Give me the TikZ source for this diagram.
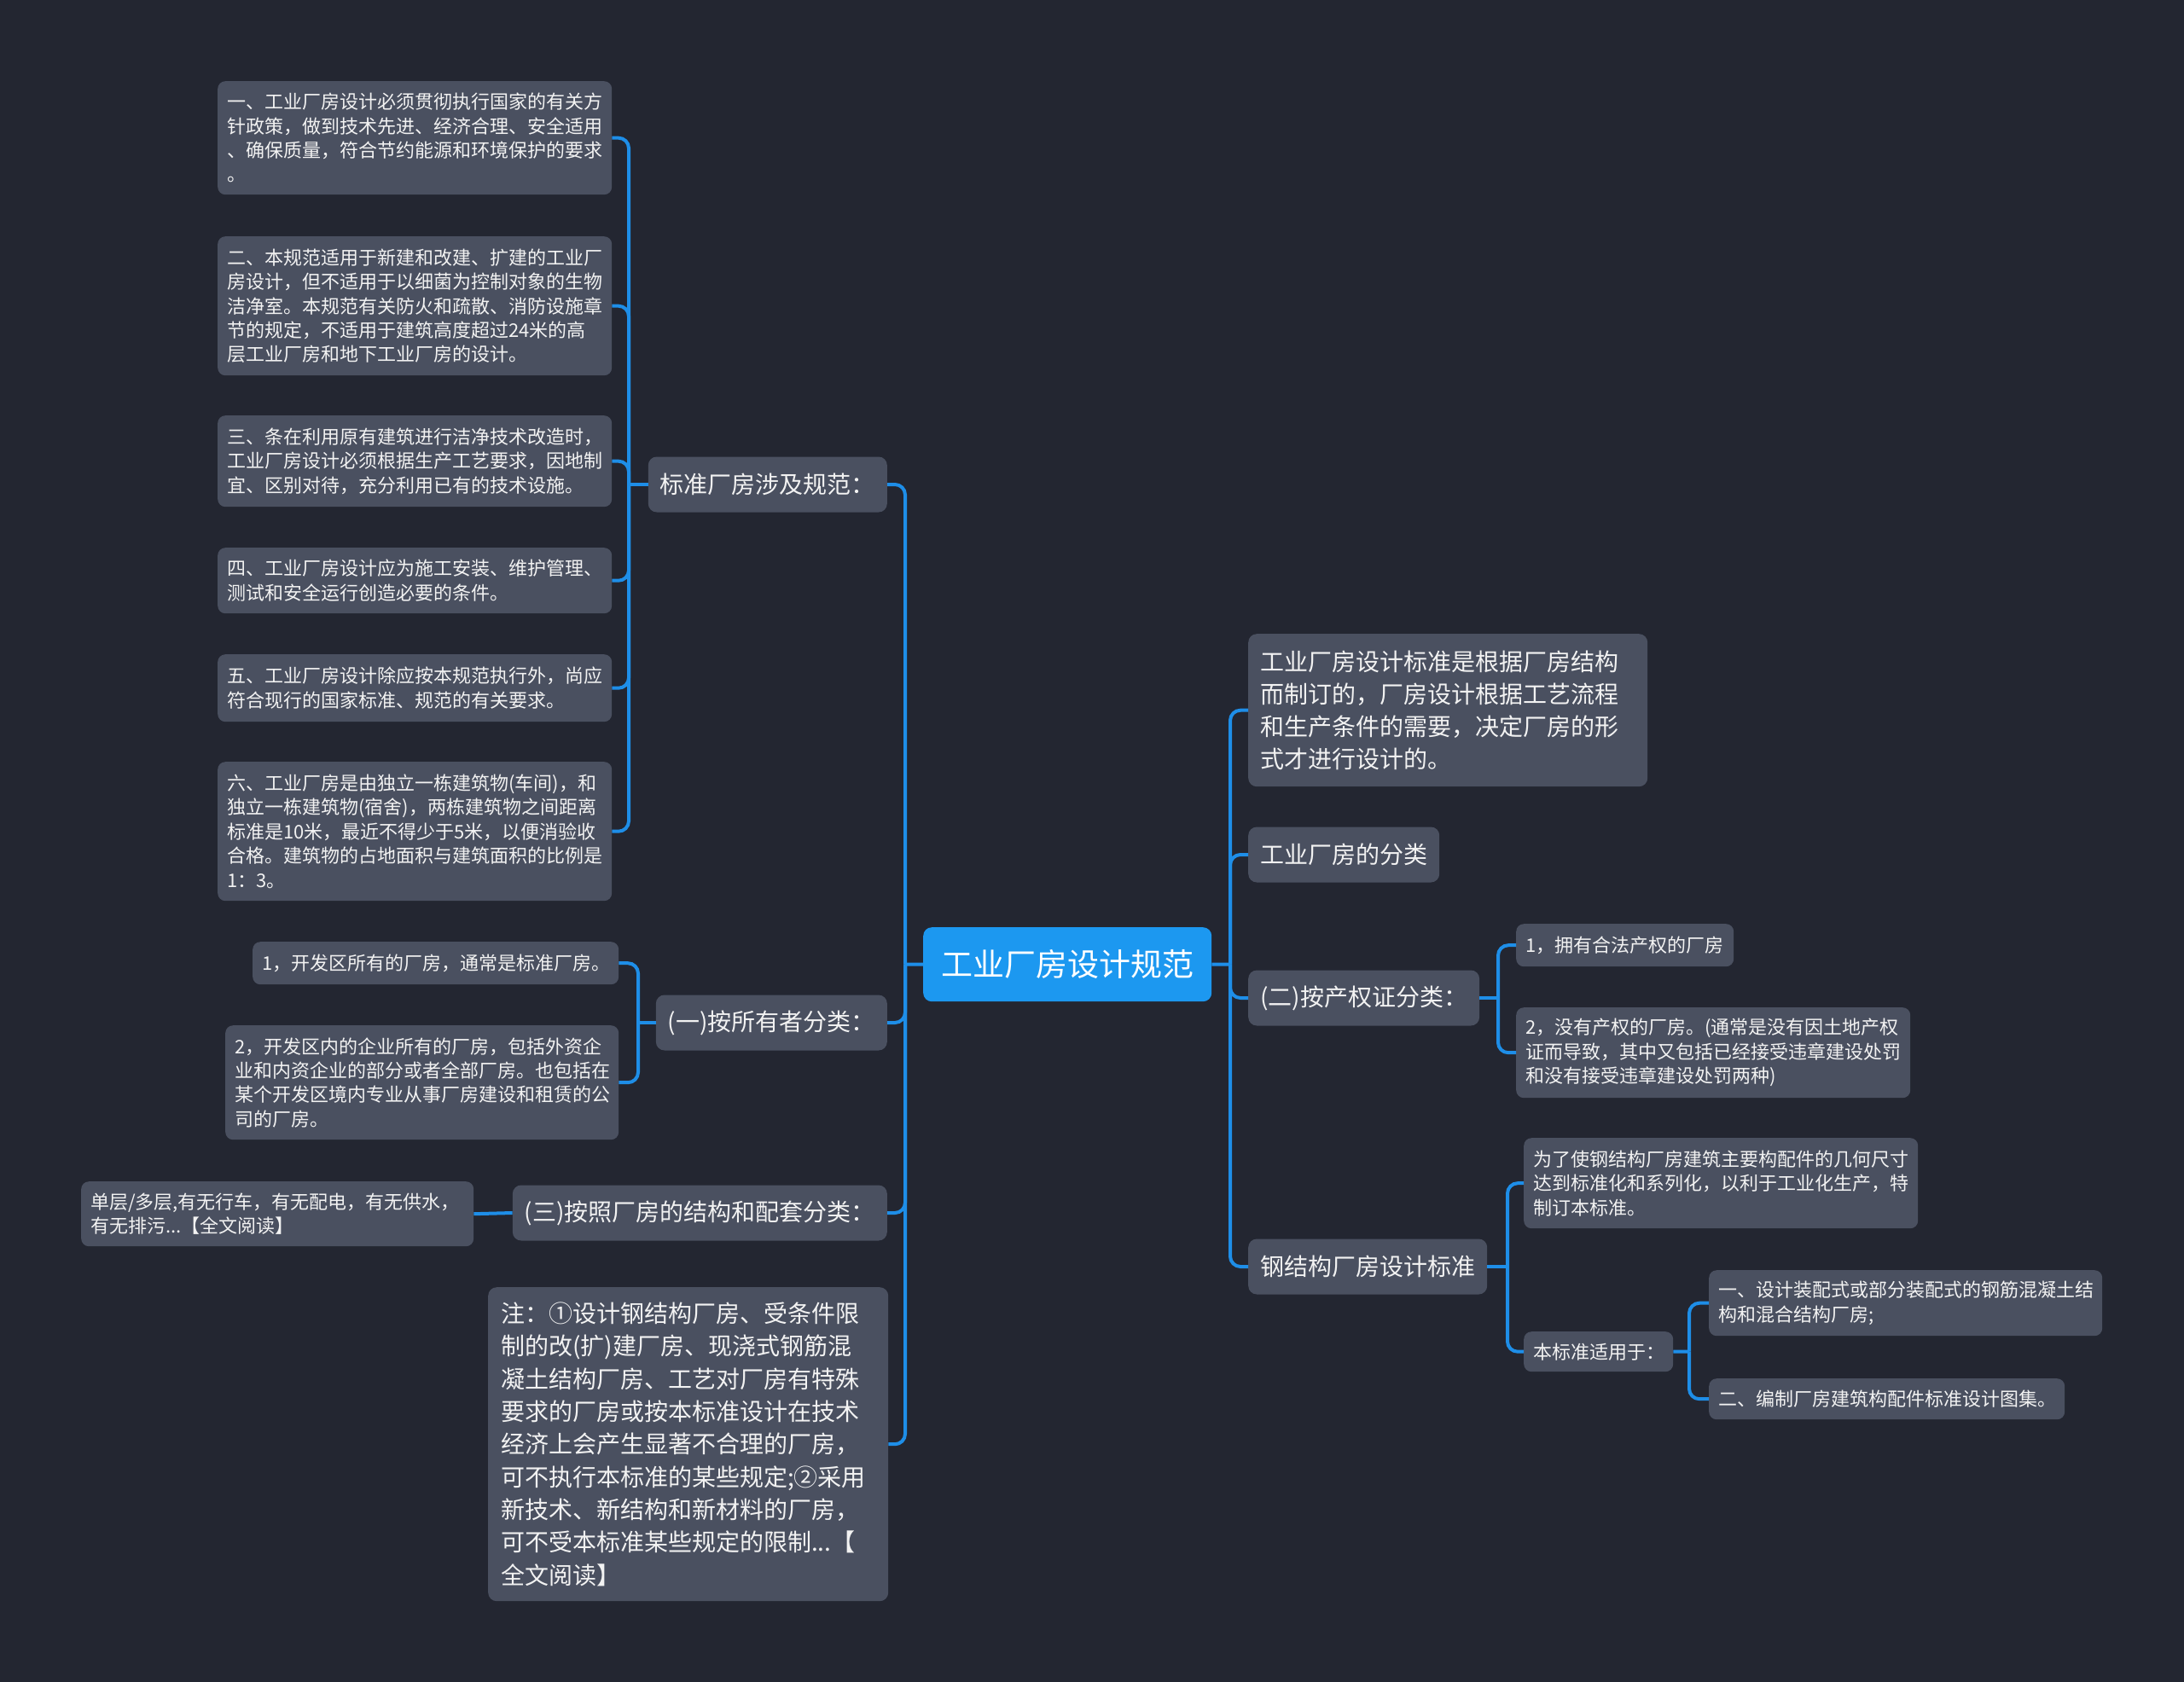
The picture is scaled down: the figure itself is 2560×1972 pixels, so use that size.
\documentclass[tikz,border=0pt]{standalone}
\usepackage{fontspec}
\setmainfont{Noto Sans CJK SC}
\definecolor{bg}{RGB}{35,38,49}
\definecolor{nodefill}{RGB}{74,80,96}
\definecolor{rootfill}{RGB}{28,152,240}
\definecolor{linec}{RGB}{30,142,232}
\definecolor{txt}{RGB}{242,242,242}
\tikzset{
 leaf/.style={fill=nodefill, rounded corners=9pt, anchor=north west, align=left, text=txt, inner xsep=11pt, inner ysep=0pt, font=\fontsize{22}{28.4}\selectfont},
 big/.style={fill=nodefill, rounded corners=10pt, anchor=north west, align=left, text=txt, inner xsep=14pt, inner ysep=0pt, font=\fontsize{28}{38}\selectfont},
 mid/.style={fill=nodefill, rounded corners=10pt, text=txt, inner xsep=14pt, inner ysep=0pt, minimum height=65pt, font=\fontsize{28}{38}\selectfont},
 rootbox/.style={fill=rootfill, rounded corners=10pt, anchor=north west, text=white, minimum width=338pt, minimum height=87pt, inner sep=0pt, font=\fontsize{37}{44}\selectfont},
 conn/.style={draw=linec, line width=4pt, rounded corners=12pt},
}
\begin{document}
\begin{tikzpicture}[x=1pt,y=-1pt]
\fill[bg] (0,0) rectangle (2560,1972);
\useasboundingbox (0,0) rectangle (2560,1972);

% root
\node[rootbox] (root) at (1082,1087) {工业厂房设计规范};

% left level 1
\node[mid, anchor=east] (N1) at (1040,568) {标准厂房涉及规范：};
\node[mid, anchor=east] (N2) at (1040,1199) {(一)按所有者分类：};
\node[mid, anchor=east] (N3) at (1040,1422) {(三)按照厂房的结构和配套分类：};
\node[big, inner xsep=15pt, text width=439pt, minimum height=368pt, font=\fontsize{28}{38.3}\selectfont] (N4) at (572,1509) {注：①设计钢结构厂房、受条件限\\制的改(扩)建厂房、现浇式钢筋混\\凝土结构厂房、工艺对厂房有特殊\\要求的厂房或按本标准设计在技术\\经济上会产生显著不合理的厂房，\\可不执行本标准的某些规定;②采用\\新技术、新结构和新材料的厂房，\\可不受本标准某些规定的限制...【\\全文阅读】};

% leaves of N1
\node[leaf, text width=440pt, minimum height=133pt] (L1) at (255,95) {一、工业厂房设计必须贯彻执行国家的有关方\\针政策，做到技术先进、经济合理、安全适用\\、确保质量，符合节约能源和环境保护的要求\\。};
\node[leaf, text width=440pt, minimum height=163pt] (L2) at (255,277) {二、本规范适用于新建和改建、扩建的工业厂\\房设计，但不适用于以细菌为控制对象的生物\\洁净室。本规范有关防火和疏散、消防设施章\\节的规定，不适用于建筑高度超过24米的高\\层工业厂房和地下工业厂房的设计。};
\node[leaf, text width=440pt, minimum height=107pt] (L3) at (255,487) {三、条在利用原有建筑进行洁净技术改造时，\\工业厂房设计必须根据生产工艺要求，因地制\\宜、区别对待，充分利用已有的技术设施。};
\node[leaf, text width=440pt, minimum height=77pt] (L4) at (255,642) {四、工业厂房设计应为施工安装、维护管理、\\测试和安全运行创造必要的条件。};
\node[leaf, text width=440pt, minimum height=79pt] (L5) at (255,767) {五、工业厂房设计除应按本规范执行外，尚应\\符合现行的国家标准、规范的有关要求。};
\node[leaf, text width=440pt, minimum height=163pt] (L6) at (255,893) {六、工业厂房是由独立一栋建筑物(车间)，和\\独立一栋建筑物(宿舍)，两栋建筑物之间距离\\标准是10米，最近不得少于5米，以便消验收\\合格。建筑物的占地面积与建筑面积的比例是\\1：3。};

% leaves of N2
\node[leaf, text width=407pt, minimum height=50pt] (O1) at (296,1104) {1，开发区所有的厂房，通常是标准厂房。};
\node[leaf, text width=439pt, minimum height=134pt] (O2) at (264,1202) {2，开发区内的企业所有的厂房，包括外资企\\业和内资企业的部分或者全部厂房。也包括在\\某个开发区境内专业从事厂房建设和租赁的公\\司的厂房。};

% leaf of N3
\node[leaf, text width=438pt, minimum height=76pt] (S1) at (95,1385) {单层/多层,有无行车，有无配电，有无供水，\\有无排污...【全文阅读】};

% right level 1
\node[big, text width=440pt, minimum height=179pt, font=\fontsize{28}{37.8}\selectfont] (R1) at (1463,743) {工业厂房设计标准是根据厂房结构\\而制订的，厂房设计根据工艺流程\\和生产条件的需要，决定厂房的形\\式才进行设计的。};
\node[mid, anchor=west] (R2) at (1463,1002) {工业厂房的分类};
\node[mid, anchor=west] (R3) at (1463,1170) {(二)按产权证分类：};
\node[mid, anchor=west] (R4) at (1463,1485) {钢结构厂房设计标准};

\node[leaf, text width=233pt, minimum height=50pt] (R3a) at (1777,1083) {1，拥有合法产权的厂房};
\node[leaf, text width=440pt, minimum height=106pt] (R3b) at (1777,1181) {2，没有产权的厂房。(通常是没有因土地产权\\证而导致，其中又包括已经接受违章建设处罚\\和没有接受违章建设处罚两种)};

\node[leaf, text width=440pt, minimum height=106pt] (R4a) at (1786,1334) {为了使钢结构厂房建筑主要构配件的几何尺寸\\达到标准化和系列化，以利于工业化生产，特\\制订本标准。};
\node[leaf, text width=153pt, minimum height=47pt] (R4b) at (1786,1561) {本标准适用于：};
\node[leaf, text width=439pt, minimum height=77pt] (R4b1) at (2003,1489) {一、设计装配式或部分装配式的钢筋混凝土结\\构和混合结构厂房;};
\node[leaf, text width=395pt, minimum height=48pt] (R4b2) at (2003,1616) {二、编制厂房建筑构配件标准设计图集。};

% junctions
\coordinate (jL) at (1061,1130.5);
\coordinate (jR) at (1442,1130.5);
\coordinate (j1) at (737,568);
\coordinate (j2) at (748,1199);
\coordinate (j3) at (1756,1170);
\coordinate (j4) at (1767,1485);
\coordinate (j5) at (1980,1584.5);

% connectors
\draw[conn] (root.west) -- (jL);
\foreach \c in {N1,N2,N3,N4} \draw[conn] (jL) |- (\c.east);
\draw[conn] (root.east) -- (jR);
\foreach \c in {R1,R2,R3,R4} \draw[conn] (jR) |- (\c.west);
\draw[conn] (N1.west) -- (j1);
\foreach \c in {L1,L2,L3,L4,L5,L6} \draw[conn] (j1) |- (\c.east);
\draw[conn] (N2.west) -- (j2);
\foreach \c in {O1,O2} \draw[conn] (j2) |- (\c.east);
\draw[conn] (N3.west) -- (S1.east);
\draw[conn] (R3.east) -- (j3);
\foreach \c in {R3a,R3b} \draw[conn] (j3) |- (\c.west);
\draw[conn] (R4.east) -- (j4);
\foreach \c in {R4a,R4b} \draw[conn] (j4) |- (\c.west);
\draw[conn] (R4b.east) -- (j5);
\foreach \c in {R4b1,R4b2} \draw[conn] (j5) |- (\c.west);
\end{tikzpicture}
\end{document}
